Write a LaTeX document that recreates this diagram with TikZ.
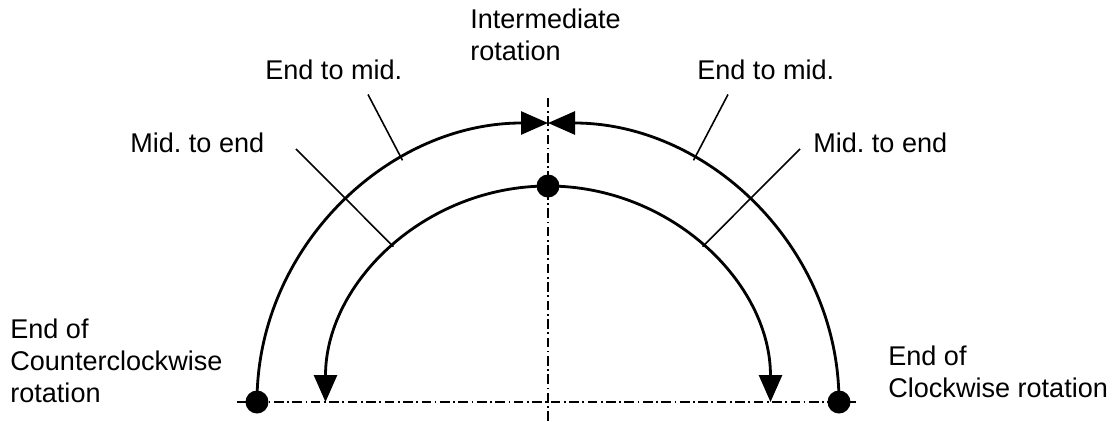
\documentclass[tikz,border=0pt]{standalone}
\usepackage{fontspec}
\setmainfont{Liberation Sans}
\usetikzlibrary{arrows.meta}
\frenchspacing

\begin{document}
\begin{tikzpicture}[
  track/.style={line width=1.6pt, -{Triangle[length=0.54cm, width=0.46cm]}},
  lead/.style={line width=0.9pt},
  centerline/.style={line width=0.8pt, dash pattern=on 5.5pt off 2pt on 1pt off 2pt},
  knob/.style={circle, fill, inner sep=0pt, minimum size=0.46cm},
  lbl/.style={inner sep=0pt, font=\fontsize{15.4}{18.1}\selectfont, align=left}
]
\useasboundingbox (-10.96,-0.38) rectangle (11.3,8.04);
% Center lines
\coordinate (hl) at (-6.22,0);
\coordinate (hr) at (6.2,0);
\coordinate (vb) at (0,-0.38);
\coordinate (vt) at (0,6.08);
\draw[centerline] (hl) -- (hr);
\draw[centerline] (vb) -- (vt);
% Outer path
\node[knob] (ccwend) at (-5.82,0) {};
\node[knob] (cwend)  at (5.82,0)  {};
\draw[track] (ccwend.center) arc[start angle=180, end angle=90, x radius=5.82, y radius=5.58];
\draw[track] (cwend.center)  arc[start angle=0,   end angle=90, x radius=5.82, y radius=5.58];
% Inner path
\node[knob] (mid) at (0,4.32) {};
\draw[track] (mid.center) arc[start angle=90, end angle=180, x radius=4.45, y radius=4.32];
\draw[track] (mid.center) arc[start angle=90, end angle=0,   x radius=4.45, y radius=4.32];
% Leaders
\coordinate (lo) at ({5.82*cos(120)},{5.58*sin(120)});
\coordinate (ro) at ({5.82*cos(60)},{5.58*sin(60)});
\coordinate (li) at ({4.45*cos(134)},{4.32*sin(134)});
\coordinate (ri) at ({4.45*cos(46)},{4.32*sin(46)});
\coordinate (lof) at (-3.6,6.15);
\coordinate (rof) at (3.6,6.15);
\coordinate (lif) at (-5.04,5.06);
\coordinate (rif) at (5.04,5.06);
\draw[lead] (lof) -- (lo);
\draw[lead] (rof) -- (ro);
\draw[lead] (lif) -- (li);
\draw[lead] (rif) -- (ri);
% Labels
\node[lbl, anchor=base west] (lem) at (-5.66,6.44) {End to mid.};
\node[lbl, anchor=base west] (rem) at (2.98,6.44)  {End to mid.};
\node[lbl, anchor=base west] (lme) at (-8.36,5.0)  {Mid. to end};
\node[lbl, anchor=base west] (rme) at (5.3,5.0)    {Mid. to end};
\node[lbl, anchor=north west] (inter) at (-1.56,7.86) {Intermediate\\rotation};
\node[lbl, anchor=north west] (ccwlbl) at (-10.76,1.66) {End of\\Counterclockwise\\rotation};
\node[lbl, anchor=north west] (cwlbl) at (6.8,1.12) {End of\\Clockwise rotation};
\end{tikzpicture}
\end{document}
